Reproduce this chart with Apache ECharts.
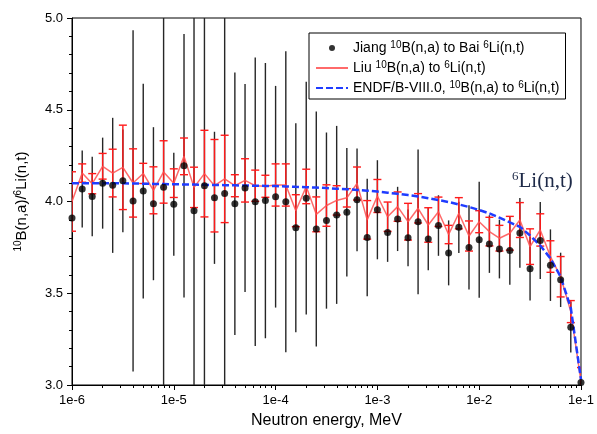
<!DOCTYPE html>
<html>
<head>
<meta charset="utf-8">
<script src="https://cdn.jsdelivr.net/npm/echarts@6/dist/echarts.min.js"></script>
<style>
  html, body { margin: 0; padding: 0; background: #fff; }
  #chart { width: 597px; height: 434px; }
</style>
</head>
<body>
<div id="chart"></div>
<script>
// Neutron energies (MeV), 10 points per decade
const energy = [
  1.00e-6, 1.26e-6, 1.58e-6, 2.00e-6, 2.51e-6, 3.16e-6, 3.98e-6, 5.01e-6, 6.31e-6, 7.94e-6,
  1.00e-5, 1.26e-5, 1.58e-5, 2.00e-5, 2.51e-5, 3.16e-5, 3.98e-5, 5.01e-5, 6.31e-5, 7.94e-5,
  1.00e-4, 1.26e-4, 1.58e-4, 2.00e-4, 2.51e-4, 3.16e-4, 3.98e-4, 5.01e-4, 6.31e-4, 7.94e-4,
  1.00e-3, 1.26e-3, 1.58e-3, 2.00e-3, 2.51e-3, 3.16e-3, 3.98e-3, 5.01e-3, 6.31e-3, 7.94e-3,
  1.00e-2, 1.26e-2, 1.58e-2, 2.00e-2, 2.51e-2, 3.16e-2, 3.98e-2, 5.01e-2, 6.31e-2, 7.94e-2,
  1.00e-1
];

// Jiang 10B(n,a) to Bai 6Li(n,t) ratio and its uncertainty
const jiang = [
  3.91, 4.068, 4.027, 4.10, 4.088, 4.113, 4.003, 4.057, 3.988, 4.077,
  3.985, 4.195, 3.95, 4.086, 4.02, 4.044, 3.988, 4.074, 3.999, 4.005,
  4.026, 3.999, 3.857, 4.018, 3.85, 3.896, 3.927, 3.941, 4.009, 3.804,
  3.955, 3.831, 3.905, 3.802, 3.889, 3.795, 3.869, 3.72, 3.859, 3.75,
  3.791, 3.768, 3.741, 3.733, 3.829, 3.634, 3.787, 3.653, 3.573, 3.315,
  3.014
];
const jiangErr = [
  0.08, 0.21, 0.217, 0.248, 0.368, 0.28, 0.93, 0.585, 0.417, 1.2,
  0.28, 0.718, 1.2, 1.2, 0.36, 1.2, 0.715, 0.567, 0.786, 0.75,
  0.604, 0.82, 0.57, 0.634, 0.64, 0.48, 0.485, 0.35, 0.28, 0.32,
  0.27, 0.16, 0.175, 0.155, 0.395, 0.17, 0.165, 0.177, 0.14, 0.23,
  0.316, 0.157, 0.16, 0.187, 0.19, 0.174, 0.21, 0.195, 0.148, 0.138,
  0.01
];

// Liu 10B(n,a) to 6Li(n,t) ratio and its uncertainty
const liu = [
  4.00, 4.155, 4.097, 4.192, 4.155, 4.186, 4.101, 4.153, 4.061, 4.161,
  4.10, 4.246, 4.077, 4.152, 4.086, 4.123, 4.086, 4.115, 4.086, 4.083,
  4.09, 4.09, 3.95, 4.082, 3.93, 3.978, 4.006, 4.02, 4.098, 3.90,
  4.03, 3.917, 3.972, 3.89, 3.963, 3.872, 3.944, 3.82, 3.936, 3.812,
  3.89, 3.836, 3.80, 3.827, 3.899, 3.754, 3.845, 3.70, 3.59, 3.40,
  3.02
];
const liuErr = [
  0.162, 0.05, 0.055, 0.07, 0.13, 0.23, 0.186, 0.055, 0.128, 0.17,
  0.078, 0.1, 0.11, 0.236, 0.252, 0.238, 0.06, 0.118, 0.085, 0.06,
  0.115, 0.115, 0.087, 0.094, 0.095, 0.113, 0.08, 0.05, 0.09, 0.105,
  0.09, 0.08, 0.08, 0.1, 0.08, 0.094, 0.08, 0.05, 0.085, 0.082,
  0.06, 0.078, 0.07, 0.092, 0.095, 0.097, 0.088, 0.086, 0.11, 0.06,
  0.075
];

// ENDF/B-VIII.0 evaluated ratio
const endf = [
  4.10, 4.10, 4.10, 4.10, 4.10, 4.099, 4.098, 4.097, 4.096, 4.095,
  4.094, 4.093, 4.092, 4.091, 4.090, 4.089, 4.088, 4.087, 4.086, 4.085,
  4.084, 4.082, 4.080, 4.078, 4.076, 4.073, 4.070, 4.067, 4.063, 4.059,
  4.054, 4.048, 4.042, 4.035, 4.027, 4.018, 4.008, 3.997, 3.984, 3.970,
  3.954, 3.935, 3.912, 3.886, 3.862, 3.815, 3.76, 3.69, 3.59, 3.42,
  3.03
];

// Axis ticks
const xTickValues = [1e-6, 1e-5, 1e-4, 1e-3, 1e-2, 1e-1];
const xTickLabels = ['1e-6', '1e-5', '1e-4', '1e-3', '1e-2', '1e-1'];
const yTickLabels = ['3.0', '3.5', '4.0', '4.5', '5.0'];

const SANS = 'Liberation Sans, Arial, sans-serif';
const SERIF = 'Liberation Serif, Times New Roman, serif';

const xMinorTicks = [];
for (let d = -6; d <= -2; d++) {
  for (let m = 2; m <= 9; m++) xMinorTicks.push(m * Math.pow(10, d));
}

function withErr(vals, errs) {
  return vals.map((v, i) => [energy[i], v, errs[i]]);
}

function errorBars(color, width, capHalf) {
  return function (params, api) {
    const x = api.value(0), y = api.value(1), e = api.value(2);
    const hi = api.coord([x, y + e]);
    const lo = api.coord([x, y - e]);
    const style = { stroke: color, lineWidth: width, fill: null };
    const children = [{
      type: 'line',
      shape: { x1: hi[0], y1: hi[1], x2: lo[0], y2: lo[1] },
      style: style
    }];
    if (capHalf > 0) {
      children.push({
        type: 'line',
        shape: { x1: hi[0] - capHalf, y1: hi[1], x2: hi[0] + capHalf, y2: hi[1] },
        style: style
      }, {
        type: 'line',
        shape: { x1: lo[0] - capHalf, y1: lo[1], x2: lo[0] + capHalf, y2: lo[1] },
        style: style
      });
    }
    return { type: 'group', children: children };
  };
}

const legendText = {
  'Jiang': '{t|Jiang }{s|10}{t|B(n,a) to Bai }{s|6}{t|Li(n,t)}',
  'Liu': '{t|Liu }{s|10}{t|B(n,a) to }{s|6}{t|Li(n,t)}',
  'ENDF': '{t|ENDF/B-VIII.0, }{s|10}{t|B(n,a) to }{s|6}{t|Li(n,t)}'
};

const chart = echarts.init(document.getElementById('chart'), null, { renderer: 'canvas' });

chart.setOption({
  animation: false,
  backgroundColor: '#fff',
  grid: {
    left: 72, right: 14, top: 18, bottom: 49,
    show: true, borderColor: '#000', borderWidth: 1, backgroundColor: 'transparent'
  },
  legend: {
    orient: 'vertical',
    left: 309, top: 33,
    padding: [7, 6, 3, 6],
    itemGap: 4,
    itemWidth: 32, itemHeight: 6,
    backgroundColor: '#fff',
    borderColor: '#000', borderWidth: 1,
    selectedMode: false,
    data: [
      { name: 'Jiang' },
      { name: 'Liu', itemStyle: { opacity: 0 } },
      { name: 'ENDF', itemStyle: { opacity: 0 } }
    ],
    formatter: name => legendText[name],
    textStyle: {
      color: '#000',
      fontFamily: SANS,
      fontSize: 14,
      lineHeight: 16,
      rich: {
        t: { fontSize: 14, fontFamily: SANS, color: '#000', lineHeight: 16 },
        s: { fontSize: 10, fontFamily: SANS, color: '#000', verticalAlign: 'top', lineHeight: 10 }
      }
    }
  },
  xAxis: [{
    type: 'log', logBase: 10,
    min: 1e-6, max: 1e-1,
    position: 'bottom',
    name: 'Neutron energy, MeV',
    nameLocation: 'middle', nameGap: 28,
    nameTextStyle: { fontFamily: SANS, fontSize: 16, color: '#000' },
    axisLine: { show: true, lineStyle: { color: '#000', width: 1 } },
    axisTick: { show: true, inside: false, length: 5, customValues: xTickValues, lineStyle: { color: '#000' } },
    axisLabel: {
      show: true, margin: 9, customValues: xTickValues,
      fontFamily: SANS, fontSize: 13, color: '#000',
      formatter: v => xTickLabels[xTickValues.findIndex(t => Math.abs(Math.log10(t) - Math.log10(v)) < 1e-6)]
    },
    splitLine: { show: false }
  }, {
    type: 'log', logBase: 10,
    min: 1e-6, max: 1e-1,
    position: 'bottom',
    axisLine: { show: false },
    axisTick: { show: true, inside: false, length: 3, customValues: xMinorTicks, lineStyle: { color: '#000' } },
    axisLabel: { show: false },
    splitLine: { show: false }
  }],
  yAxis: {
    type: 'value',
    min: 3, max: 5, interval: 0.5,
    name: '{s|10}{t|B(n,a)/}{s|6}{t|Li(n,t)}',
    nameLocation: 'middle', nameRotate: 90, nameGap: 42,
    nameTextStyle: {
      fontFamily: SANS, fontSize: 15, color: '#000',
      rich: {
        t: { fontSize: 15, fontFamily: SANS, color: '#000', lineHeight: 17 },
        s: { fontSize: 10, fontFamily: SANS, color: '#000', verticalAlign: 'top', lineHeight: 10 }
      }
    },
    axisLine: { show: true, lineStyle: { color: '#000', width: 1 } },
    axisTick: { show: true, inside: false, length: 5, lineStyle: { color: '#000' } },
    minorTick: { show: true, splitNumber: 5, length: 3, lineStyle: { color: '#000' } },
    axisLabel: {
      margin: 9, fontFamily: SANS, fontSize: 13, color: '#000',
      formatter: v => yTickLabels[Math.round((v - 3) / 0.5)]
    },
    splitLine: { show: false }
  },
  graphic: [{
    type: 'text',
    left: 512, top: 170,
    z: 10,
    style: {
      text: '{s|6}{t|Li(n,t)}',
      rich: {
        t: { fontFamily: SERIF, fontSize: 21, fill: '#1e2a48', lineHeight: 22 },
        s: { fontFamily: SERIF, fontSize: 13, fill: '#1e2a48', verticalAlign: 'top', lineHeight: 13 }
      }
    }
  }],
  series: [{
    name: 'JiangErr',
    type: 'custom',
    xAxisIndex: 0,
    clip: true,
    z: 1,
    renderItem: errorBars('#262626', 1.4, 0),
    encode: { x: 0, y: 1 },
    data: withErr(jiang, jiangErr)
  }, {
    name: 'LiuErr',
    type: 'custom',
    xAxisIndex: 0,
    clip: true,
    z: 2,
    renderItem: errorBars('#ff1a1a', 1.4, 4),
    encode: { x: 0, y: 1 },
    data: withErr(liu, liuErr)
  }, {
    name: 'Liu',
    type: 'line',
    xAxisIndex: 0,
    z: 3,
    symbol: 'none',
    color: '#ff5050',
    lineStyle: { color: '#ff5050', width: 1.5, opacity: 0.85 },
    data: liu.map((v, i) => [energy[i], v])
  }, {
    name: 'ENDF',
    type: 'line',
    xAxisIndex: 0,
    z: 4,
    symbol: 'none',
    color: '#1f3cff',
    lineStyle: { color: '#1f3cff', width: 2.5, type: [7, 3] },
    data: endf.map((v, i) => [energy[i], v])
  }, {
    name: 'Jiang',
    type: 'scatter',
    xAxisIndex: 0,
    z: 5,
    symbol: 'circle',
    symbolSize: 7,
    color: '#000',
    itemStyle: { color: '#000' },
    data: jiang.map((v, i) => [energy[i], v])
  }]
});
</script>
</body>
</html>
